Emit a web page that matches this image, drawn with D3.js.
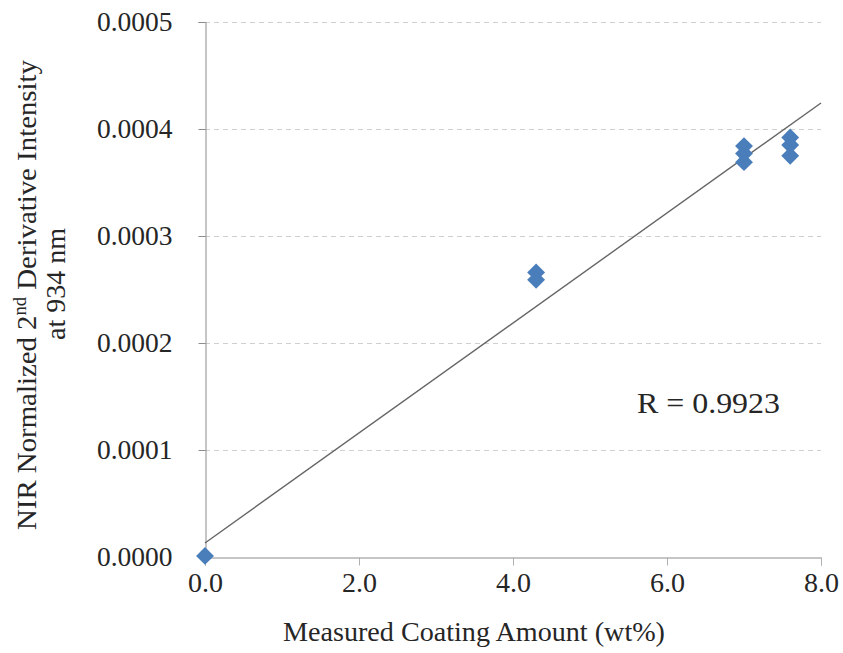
<!DOCTYPE html>
<html>
<head>
<meta charset="utf-8">
<script src="https://cdn.jsdelivr.net/npm/d3@7"></script>
<style>
  body { margin: 0; background: #fff; }
  text { font-family: "Liberation Serif", "Times New Roman", serif; fill: #262626; }
</style>
</head>
<body>
<svg id="chart"></svg>
<script>
// measured coating amount (wt%) and NIR intensity
var coating = [0, 4.3, 4.3, 7.0, 7.0, 7.0, 7.6, 7.6, 7.6];
var intensity = [0.000001, 0.000266, 0.000259, 0.000384, 0.000377, 0.000369, 0.000392, 0.000385, 0.000375];
var xTicks = [0, 2, 4, 6, 8];
var yTicks = [0, 0.0001, 0.0002, 0.0003, 0.0004, 0.0005];
// linear trendline as drawn in the figure
var trendSlope = 0.0000514;
var trendIntercept = 0.0000131;
var rLabel = 'R = 0.9923';

var width = 843, height = 653;
var margin = {top: 22, right: 22, bottom: 96, left: 205};

var svg = d3.select('#chart')
  .attr('width', width)
  .attr('height', height);

var x = d3.scaleLinear().domain([0, 8]).range([margin.left, width - margin.right]);
var y = d3.scaleLinear().domain([0, 0.0005]).range([height - margin.bottom, margin.top]);

// gridlines
svg.append('g')
  .selectAll('line')
  .data(yTicks.slice(1))
  .join('line')
  .attr('x1', x(0))
  .attr('x2', x(8))
  .attr('y1', function(d) { return Math.round(y(d)) + 0.5; })
  .attr('y2', function(d) { return Math.round(y(d)) + 0.5; })
  .attr('stroke', '#d0d0d0')
  .attr('stroke-dasharray', '5,4');

// y axis
var yAxis = svg.append('g')
  .attr('transform', 'translate(' + (x(0) + 0.5) + ',0)')
  .call(d3.axisLeft(y).tickValues(yTicks).tickFormat(d3.format('.4f')).tickSize(7).tickPadding(26));
yAxis.select('.domain').attr('stroke', '#8c8c8c');
yAxis.selectAll('.tick line').attr('stroke', '#8c8c8c');
yAxis.selectAll('.tick text')
  .style('font-size', '27.5px')
  .attr('fill', '#262626');

// x axis
var xAxis = svg.append('g')
  .attr('transform', 'translate(0,' + (y(0) + 0.5) + ')')
  .call(d3.axisBottom(x).tickValues(xTicks).tickFormat(d3.format('.1f')).tickSize(8).tickPadding(7));
xAxis.select('.domain').attr('stroke', '#8c8c8c');
xAxis.selectAll('.tick line').attr('stroke', '#b0b0b0');
xAxis.selectAll('.tick text')
  .style('font-size', '28px')
  .attr('fill', '#262626');

// trendline
svg.append('line')
  .attr('x1', x(0))
  .attr('y1', y(trendIntercept))
  .attr('x2', x(8))
  .attr('y2', y(trendIntercept + trendSlope * 8))
  .attr('stroke', '#666')
  .attr('stroke-width', 1.4);

// points
var pts = coating.map(function(c, i) { return {x: c, y: intensity[i]}; });
svg.append('g')
  .selectAll('path')
  .data(pts)
  .join('path')
  .attr('d', d3.symbol(d3.symbolSquare, 160))
  .attr('transform', function(d) { return 'translate(' + x(d.x) + ',' + y(d.y) + ') rotate(45)'; })
  .attr('fill', '#4a7ebb');

// axis titles
svg.append('text')
  .attr('x', 474)
  .attr('y', 641)
  .attr('text-anchor', 'middle')
  .attr('textLength', 382)
  .attr('lengthAdjust', 'spacingAndGlyphs')
  .style('font-size', '28px')
  .text('Measured Coating Amount (wt%)');

var yt = svg.append('text')
  .attr('transform', 'translate(36,295) rotate(-90)')
  .attr('text-anchor', 'middle')
  .attr('textLength', 470)
  .attr('lengthAdjust', 'spacingAndGlyphs')
  .style('font-size', '28px');
yt.append('tspan').text('NIR Normalized 2');
yt.append('tspan').style('font-size', '18px').attr('dy', -10).text('nd');
yt.append('tspan').attr('dy', 10).text(' Derivative  Intensity');

svg.append('text')
  .attr('transform', 'translate(65,284) rotate(-90)')
  .attr('text-anchor', 'middle')
  .attr('textLength', 112)
  .attr('lengthAdjust', 'spacingAndGlyphs')
  .style('font-size', '28px')
  .text('at  934 nm');

svg.append('text')
  .attr('x', 637)
  .attr('y', 413)
  .attr('textLength', 143)
  .attr('lengthAdjust', 'spacingAndGlyphs')
  .style('font-size', '30px')
  .attr('fill', '#111')
  .text(rLabel);
</script>
</body>
</html>
